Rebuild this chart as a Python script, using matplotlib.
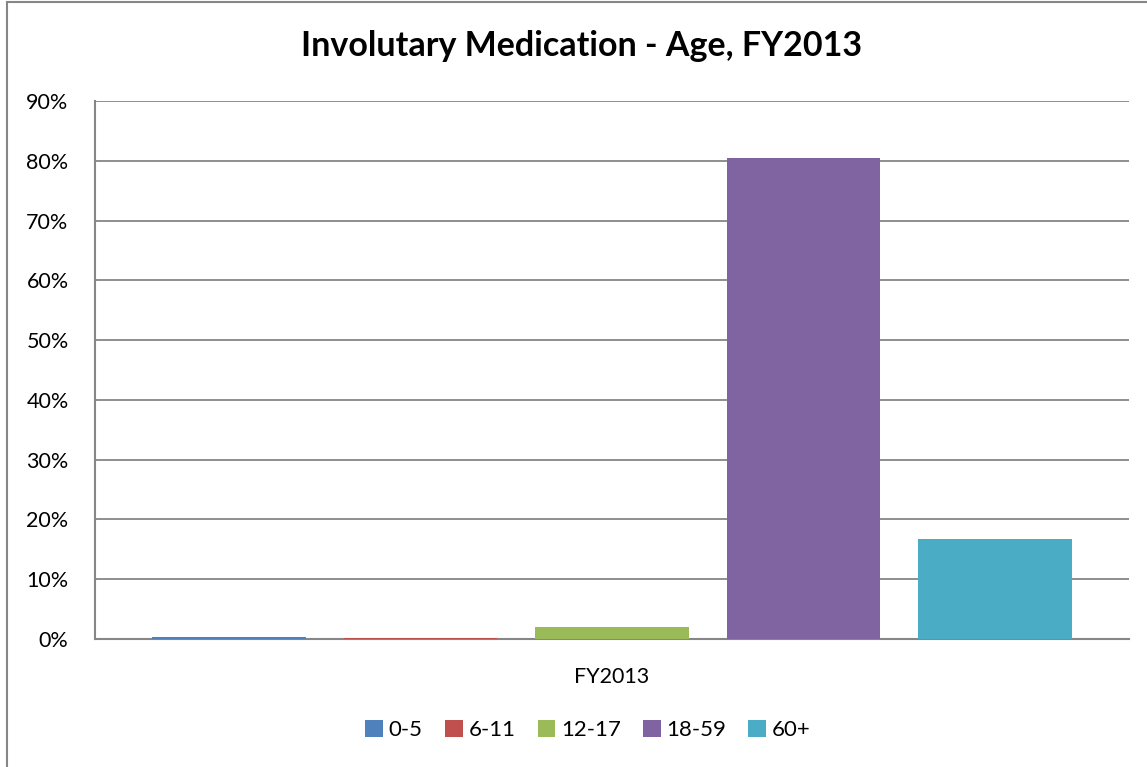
import numpy as np
import matplotlib.pyplot as plt
from matplotlib.patches import Rectangle
from matplotlib.ticker import PercentFormatter

# data
groups = ["0-5", "6-11", "12-17", "18-59", "60+"]
shares = [0.4, 0.2, 2.0, 80.4, 16.8]
colors = ["#4F81BD", "#C0504D", "#9BBB59", "#8064A2", "#4BACC6"]
category = "FY2013"

plt.rcParams['font.family'] = ['Lato', 'DejaVu Sans']

W, H = 1147, 767
fig = plt.figure(figsize=(W/100, H/100), dpi=100)

# outer chart border (cropped on right/bottom)
fig.patches.append(Rectangle((7/W, -0.01), 1.05, 1 - 2/H + 0.01, transform=fig.transFigure,
                             fill=False, edgecolor="#868686", linewidth=1.5))

ax = fig.add_axes([95/W, 1 - 639/H, (1129-95)/W, (639-101)/H])

x = np.arange(len(groups))
for i in range(len(groups)):
    ax.bar(x[i], shares[i], width=0.8, color=colors[i], label=groups[i], zorder=3)

ax.set_xlim(-0.7, len(groups) - 0.3)
ax.set_ylim(0, 90)
ax.set_yticks(np.arange(0, 91, 10))
ax.yaxis.set_major_formatter(PercentFormatter(decimals=0))
ax.set_xticks([x.mean()])
ax.set_xticklabels([category])
ax.tick_params(length=0, labelsize=15.5)
ax.tick_params(axis='y', pad=19)
ax.tick_params(axis='x', pad=20)
ax.yaxis.grid(True, color="#868686", linewidth=1.3, zorder=0)

for s in ["top", "right"]:
    ax.spines[s].set_visible(False)
for s in ["left", "bottom"]:
    ax.spines[s].set_color("#868686")
    ax.spines[s].set_linewidth(1.5)

fig.text(582/W, 1 - 46/H, "Involutary Medication - Age, FY2013", ha="center", va="center",
         fontsize=24.5, fontweight="bold")

fig.legend(loc="center", bbox_to_anchor=(588/W, 1 - 730/H), ncol=5, frameon=False,
           fontsize=16, handlelength=0.8, handleheight=0.8, handletextpad=0.25,
           columnspacing=1.0)

fig.savefig("out.png", dpi=100)
